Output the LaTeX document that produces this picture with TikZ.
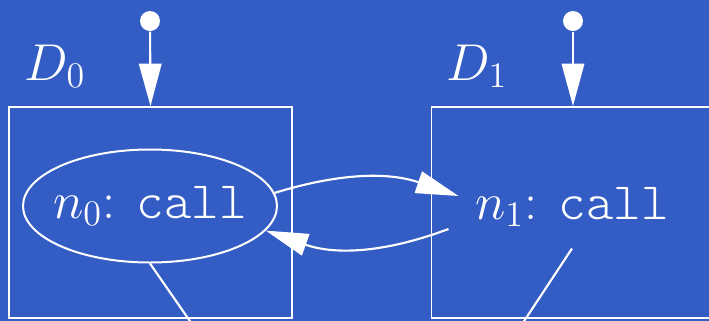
\documentclass[tikz,border=0pt]{standalone}
\usepackage{xcolor}
\usepackage{tikz}
\usepackage{amsmath}
\usetikzlibrary{arrows.meta,positioning,calc,shapes.geometric}

\definecolor{slideblue}{RGB}{51,93,196}

\newcommand{\callnode}[1]{\makebox[0pt]{$#1$: {\fontseries{l}\ttfamily call}}}

\begin{document}
\begin{tikzpicture}[
    x=0.4pt,y=-0.4pt,
    >={Triangle[length=17pt,width=9pt]},
    line/.style={draw=white, line width=0.85pt},
    cluster/.style={
        draw=white,
        line width=0.75pt,
        minimum width=113.2pt,
        minimum height=84.4pt,
        inner sep=0pt
    },
    callbox/.style={
        ellipse,
        draw=white,
        line width=0.8pt,
        minimum width=101.6pt,
        minimum height=45.2pt,
        inner sep=0pt,
        text=white,
        font=\fontsize{21}{25}\selectfont
    },
    plainbox/.style={
        minimum width=101.6pt,
        minimum height=32.8pt,
        inner sep=0pt,
        text=white,
        font=\fontsize{21}{25}\selectfont
    },
    entry/.style={circle, fill=white, minimum size=8pt, inner sep=0pt},
    lbl/.style={anchor=base, text=white, font=\fontsize{21}{25}\selectfont}
]

% ===== background and frame =====
\fill[slideblue] (0,0) rectangle (709,321);
\useasboundingbox (0,0) rectangle (709,321);
\clip (0,0) rectangle (709,321);

% ===== clusters =====
\node[cluster] (d0) at (150.5,212.5) {};
\node[cluster] (d1) at (573,212.5) {};
\node[lbl] (d0lbl) at (55,80) {$D_0$};
\node[lbl] (d1lbl) at (477,80) {$D_1$};

% entry points
\node[entry] (in0) at (150,21) {};
\node[entry] (in1) at (573,21) {};
\draw[line,->] (in0) -- (d0.north);
\draw[line,->] (in1) -- (d1.north);

% ===== call nodes =====
\node[callbox] (n0) at (150,206) {\callnode{n_0}};
\node[plainbox] (n1) at (572,207) {\callnode{n_1}};

% call / return edges
\draw[line,->] (n0.6) to[bend left=18] ([shift={(14,-11)}]n1.west);
\draw[line,->] ([shift={(4,22)}]n1.west) to[bend left=20] (n0.-12);

% edges leaving the clusters
\coordinate (out0) at (210,350);
\coordinate (out1) at (505,350);
\draw[line] (n0.south) -- (out0);
\draw[line] (n1.south) -- (out1);
\end{tikzpicture}
\end{document}
